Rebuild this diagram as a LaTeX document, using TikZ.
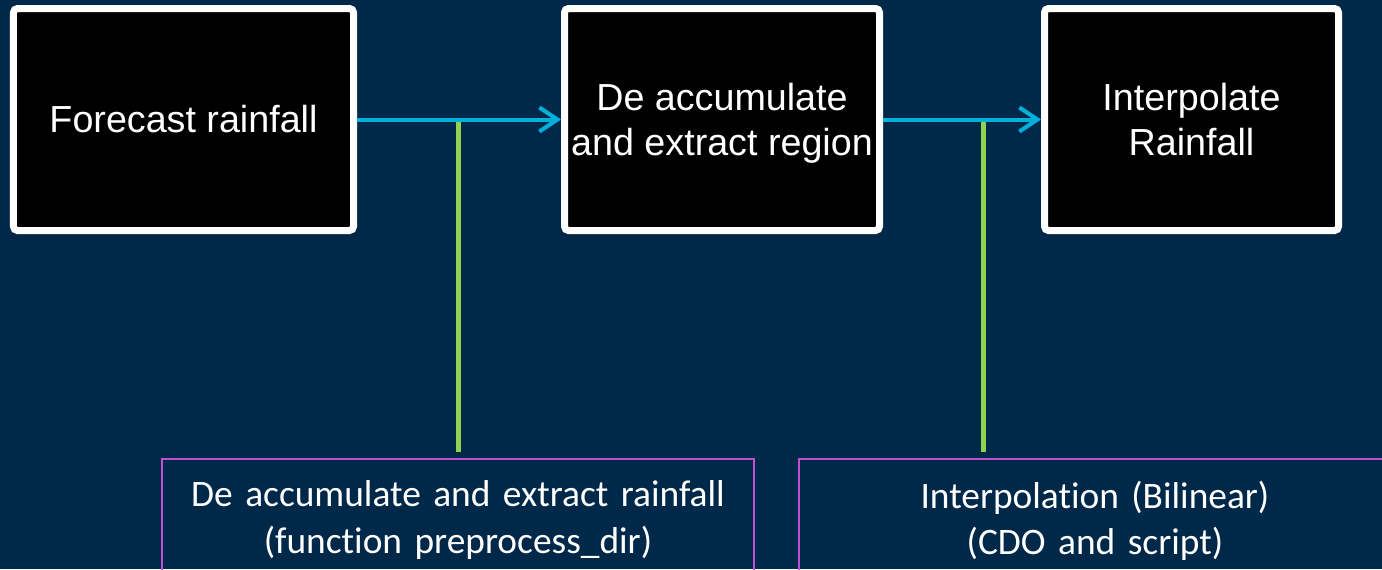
\documentclass[tikz,border=0pt]{standalone}
\usepackage{fontspec}
\setmainfont{Liberation Sans}
\newfontfamily\calibri[Ligatures=NoCommon, WordSpace=0.5]{Carlito}
\usepackage{tikz}
\usepackage{xcolor}
\usetikzlibrary{positioning,arrows.meta}

\definecolor{slidebg}{RGB}{0,40,72}
\definecolor{flowcyan}{RGB}{0,176,220}
\definecolor{linkgreen}{RGB}{146,208,80}
\definecolor{toolpurple}{RGB}{192,80,208}

\begin{document}
\begin{tikzpicture}[
    node distance=5.1cm,
    stage/.style={draw=white, fill=black, text=white, line width=0.175cm, rounded corners=0.1cm, align=center, inner xsep=0.1cm, minimum height=5.55cm, font=\fontsize{26.8}{32}\selectfont},
    tool/.style={draw=toolpurple, line width=0.05cm, text=white, align=center, text width=14.8cm, inner xsep=0pt, inner ysep=0.55cm, anchor=north, font=\calibri\fontsize{26.6}{33}\selectfont},
    arrow/.style={-{Straight Barb[length=0.45cm,width=0.6cm]}, line width=0.1cm, draw=flowcyan},
    link/.style={line width=0.125cm, draw=linkgreen}
  ]
    \fill[slidebg] (0,0) rectangle (34.55,-14.225);
    \clip (0,0) rectangle (34.55,-14.225);
    % pipeline steps
    \node[stage, minimum width=8.5cm] (forecast) at (4.5875,-2.9875) {Forecast rainfall};
    \node[stage, minimum width=7.875cm, right=of forecast, text depth=0pt] (deacc) {De accumulate\\and extract region};
    \node[stage, minimum width=7.35cm, right=3.95cm of deacc, text depth=0pt] (interp) {Interpolate\\Rainfall};
    % tools used for each step
    \node[tool] (prepro) at (11.45,-11.45) {De accumulate and extract rainfall\\(function preprocess\_dir)};
    \node[tool] (cdo) at (27.375,-11.45) {Interpolation (Bilinear)\\(CDO and script)};
    \coordinate (cdotap) at ([xshift=-2.8cm]cdo.north);
    \draw[link, shorten <=0.15cm] (prepro.north) -- (prepro.north |- forecast.east);
    \draw[link, shorten <=0.15cm] (cdotap) -- (cdotap |- deacc.east);
    \draw[arrow] (forecast) -- (deacc);
    \draw[arrow] (deacc) -- (interp);
  \end{tikzpicture}
\end{document}
